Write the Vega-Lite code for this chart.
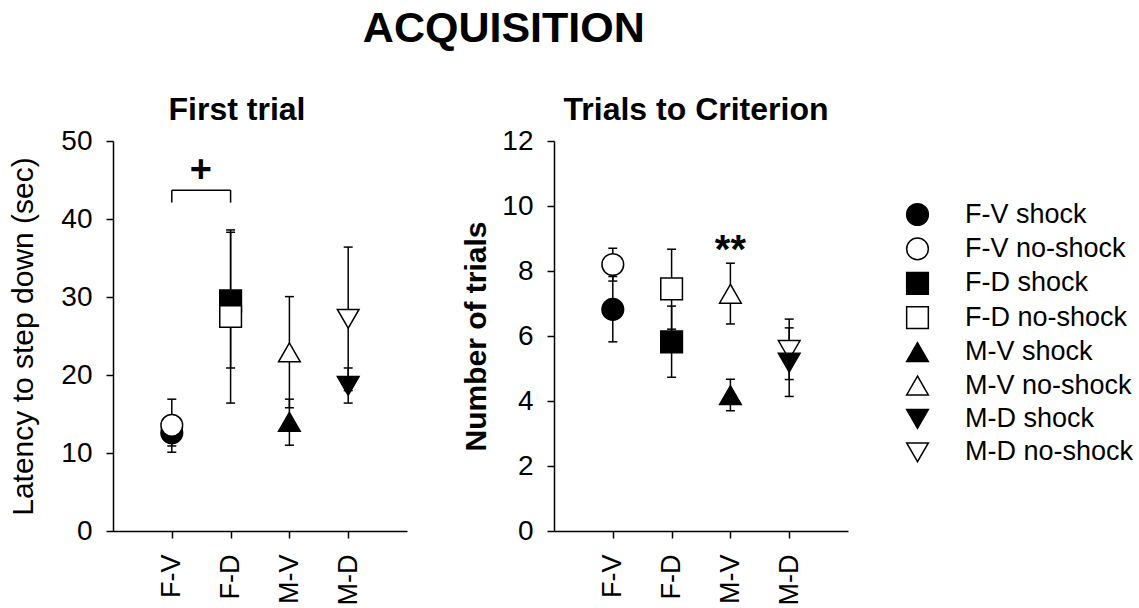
{
  "$schema": "https://vega.github.io/schema/vega-lite/v6.json",
  "background": "white",
  "padding": {"left": 8, "top": 8, "right": 5, "bottom": 5},
  "title": {"text": "ACQUISITION", "fontSize": 43, "anchor": "start", "dx": 354, "offset": 43},
  "datasets": {
    "first": [
      {"group": "F-V", "series": "F-V shock", "mean": 12.6, "lo": 10.9, "hi": 14.3},
      {"group": "F-V", "series": "F-V no-shock", "mean": 13.55, "lo": 10.1, "hi": 16.9},
      {"group": "F-D", "series": "F-D shock", "mean": 29.5, "lo": 20.9, "hi": 38.3},
      {"group": "F-D", "series": "F-D no-shock", "mean": 27.5, "lo": 16.4, "hi": 38.6},
      {"group": "M-V", "series": "M-V shock", "mean": 14.0, "lo": 11.0, "hi": 16.9},
      {"group": "M-V", "series": "M-V no-shock", "mean": 22.9, "lo": 15.8, "hi": 30.05},
      {"group": "M-D", "series": "M-D no-shock", "mean": 27.2, "lo": 18.0, "hi": 36.4},
      {"group": "M-D", "series": "M-D shock", "mean": 18.6, "lo": 16.4, "hi": 20.9}
    ],
    "criterion": [
      {"group": "F-V", "series": "F-V shock", "mean": 6.82, "lo": 5.82, "hi": 7.83},
      {"group": "F-V", "series": "F-V no-shock", "mean": 8.2, "lo": 7.69, "hi": 8.7},
      {"group": "F-D", "series": "F-D shock", "mean": 5.82, "lo": 4.73, "hi": 6.92},
      {"group": "F-D", "series": "F-D no-shock", "mean": 7.45, "lo": 6.21, "hi": 8.67},
      {"group": "M-V", "series": "M-V shock", "mean": 4.18, "lo": 3.7, "hi": 4.67},
      {"group": "M-V", "series": "M-V no-shock", "mean": 7.3, "lo": 6.37, "hi": 8.24},
      {"group": "M-D", "series": "M-D no-shock", "mean": 5.57, "lo": 4.66, "hi": 6.52},
      {"group": "M-D", "series": "M-D shock", "mean": 5.18, "lo": 4.14, "hi": 6.25}
    ],
    "bracket": [
      {"group": "F-V", "group2": "F-V", "y": 42.1, "y2": 43.7},
      {"group": "F-V", "group2": "F-D", "y": 43.7, "y2": 43.7},
      {"group": "F-D", "group2": "F-D", "y": 43.7, "y2": 42.1}
    ],
    "plus": [{"group": "F-V", "y": 46.6, "label": "+"}],
    "stars": [{"group": "M-V", "y": 8.86, "label": "**"}]
  },
  "bounds": "flush",
  "spacing": 147,
  "resolve": {"scale": {"x": "independent", "y": "independent"}},
  "hconcat": [
    {
      "width": 294,
      "height": 390,
      "title": {"text": "First trial", "dx": -23, "offset": 0},
      "encoding": {
        "x": {"field": "group", "type": "nominal", "scale": {"type": "point", "domain": ["F-V", "F-D", "M-V", "M-D"], "padding": 1}, "axis": {"title": null, "labelAngle": -90, "labelPadding": 16, "labelFontSize": 27}}
      },
      "layer": [
        {
          "data": {"name": "first"},
          "mark": {"type": "rule", "color": "black", "strokeWidth": 1.5},
          "encoding": {
            "y": {"field": "lo", "type": "quantitative", "scale": {"domain": [0, 50], "nice": false}, "axis": {"title": "Latency to step down (sec)", "values": [0, 10, 20, 30, 40, 50], "titleFontWeight": "normal", "titlePadding": 22}},
            "y2": {"field": "hi"}
          }
        },
        {
          "data": {"name": "first"},
          "mark": {"type": "tick", "color": "black", "thickness": 1.5, "size": 9, "opacity": 1},
          "encoding": {"y": {"field": "lo", "type": "quantitative"}}
        },
        {
          "data": {"name": "first"},
          "mark": {"type": "tick", "color": "black", "thickness": 1.5, "size": 9, "opacity": 1},
          "encoding": {"y": {"field": "hi", "type": "quantitative"}}
        },
        {
          "data": {"name": "first"},
          "mark": {"type": "point", "filled": true, "strokeWidth": 1.5, "opacity": 1},
          "encoding": {
            "y": {"field": "mean", "type": "quantitative"},
            "shape": {"field": "series", "type": "nominal", "scale": {"domain": ["F-V shock", "F-V no-shock", "F-D shock", "F-D no-shock", "M-V shock", "M-V no-shock", "M-D shock", "M-D no-shock"], "range": ["circle", "circle", "square", "square", "triangle-up", "triangle-up", "triangle-down", "triangle-down"]}},
            "fill": {"field": "series", "type": "nominal", "scale": {"domain": ["F-V shock", "F-V no-shock", "F-D shock", "F-D no-shock", "M-V shock", "M-V no-shock", "M-D shock", "M-D no-shock"], "range": ["black", "white", "black", "white", "black", "white", "black", "white"]}},
            "stroke": {"field": "series", "type": "nominal", "scale": {"domain": ["F-V shock", "F-V no-shock", "F-D shock", "F-D no-shock", "M-V shock", "M-V no-shock", "M-D shock", "M-D no-shock"], "range": ["black", "black", "black", "black", "black", "black", "black", "black"]}},
            "size": {"field": "series", "type": "ordinal", "scale": {"domain": ["F-V shock", "F-V no-shock", "F-D shock", "F-D no-shock", "M-V shock", "M-V no-shock", "M-D shock", "M-D no-shock"], "range": [470, 470, 350, 350, 470, 470, 470, 470]}}
          }
        },
        {
          "data": {"name": "bracket"},
          "mark": {"type": "rule", "color": "black", "strokeWidth": 1.5},
          "encoding": {
            "x2": {"field": "group2"},
            "y": {"field": "y", "type": "quantitative"},
            "y2": {"field": "y2"}
          }
        },
        {
          "data": {"name": "plus"},
          "mark": {"type": "text", "dx": 29, "dy": 3, "fontSize": 38, "fontWeight": "bold", "color": "black", "baseline": "middle"},
          "encoding": {
            "y": {"field": "y", "type": "quantitative"},
            "text": {"field": "label"}
          }
        }
      ]
    },
    {
      "width": 294,
      "height": 390,
      "title": {"text": "Trials to Criterion", "dx": -5, "offset": 0},
      "encoding": {
        "x": {"field": "group", "type": "nominal", "scale": {"type": "point", "domain": ["F-V", "F-D", "M-V", "M-D"], "padding": 1}, "axis": {"title": null, "labelAngle": -90, "labelPadding": 16, "labelFontSize": 27}}
      },
      "layer": [
        {
          "data": {"name": "criterion"},
          "mark": {"type": "rule", "color": "black", "strokeWidth": 1.5},
          "encoding": {
            "y": {"field": "lo", "type": "quantitative", "scale": {"domain": [0, 12], "nice": false}, "axis": {"title": "Number of trials", "values": [0, 2, 4, 6, 8, 10, 12], "titleFontWeight": "bold"}},
            "y2": {"field": "hi"}
          }
        },
        {
          "data": {"name": "criterion"},
          "mark": {"type": "tick", "color": "black", "thickness": 1.5, "size": 9, "opacity": 1},
          "encoding": {"y": {"field": "lo", "type": "quantitative"}}
        },
        {
          "data": {"name": "criterion"},
          "mark": {"type": "tick", "color": "black", "thickness": 1.5, "size": 9, "opacity": 1},
          "encoding": {"y": {"field": "hi", "type": "quantitative"}}
        },
        {
          "data": {"name": "criterion"},
          "mark": {"type": "point", "filled": true, "strokeWidth": 1.5, "opacity": 1},
          "encoding": {
            "y": {"field": "mean", "type": "quantitative"},
            "shape": {"field": "series", "type": "nominal", "scale": {"domain": ["F-V shock", "F-V no-shock", "F-D shock", "F-D no-shock", "M-V shock", "M-V no-shock", "M-D shock", "M-D no-shock"], "range": ["circle", "circle", "square", "square", "triangle-up", "triangle-up", "triangle-down", "triangle-down"]}},
            "fill": {"field": "series", "type": "nominal", "scale": {"domain": ["F-V shock", "F-V no-shock", "F-D shock", "F-D no-shock", "M-V shock", "M-V no-shock", "M-D shock", "M-D no-shock"], "range": ["black", "white", "black", "white", "black", "white", "black", "white"]}},
            "stroke": {"field": "series", "type": "nominal", "scale": {"domain": ["F-V shock", "F-V no-shock", "F-D shock", "F-D no-shock", "M-V shock", "M-V no-shock", "M-D shock", "M-D no-shock"], "range": ["black", "black", "black", "black", "black", "black", "black", "black"]}},
            "size": {"field": "series", "type": "ordinal", "scale": {"domain": ["F-V shock", "F-V no-shock", "F-D shock", "F-D no-shock", "M-V shock", "M-V no-shock", "M-D shock", "M-D no-shock"], "range": [470, 470, 350, 350, 470, 470, 470, 470]}}
          }
        },
        {
          "data": {"name": "stars"},
          "mark": {"type": "text", "fontSize": 40, "fontWeight": "bold", "color": "black", "baseline": "middle", "dy": 8},
          "encoding": {
            "y": {"field": "y", "type": "quantitative"},
            "text": {"field": "label"}
          }
        }
      ]
    }
  ],
  "config": {
    "font": "Liberation Sans",
    "view": {"stroke": null},
    "axis": {
      "grid": false, "domainColor": "black", "domainWidth": 1.5, "tickColor": "black", "tickWidth": 1.5, "tickSize": 7,
      "labelColor": "black", "labelFontSize": 28, "labelFont": "Liberation Sans", "titleColor": "black", "titleFontSize": 30, "titleFont": "Liberation Sans"
    },
    "axisY": {"labelPadding": 14, "titlePadding": 10},
    "title": {"color": "black", "font": "Liberation Sans", "fontWeight": "bold", "fontSize": 32},
    "legend": {
      "orient": "none", "legendX": 791, "legendY": 60, "title": null, "padding": 0,
      "labelFontSize": 27, "labelFont": "Liberation Sans", "labelColor": "black", "labelOffset": 34, "labelLimit": 400,
      "symbolStrokeWidth": 1.5, "rowPadding": 5.4
    }
  }
}
